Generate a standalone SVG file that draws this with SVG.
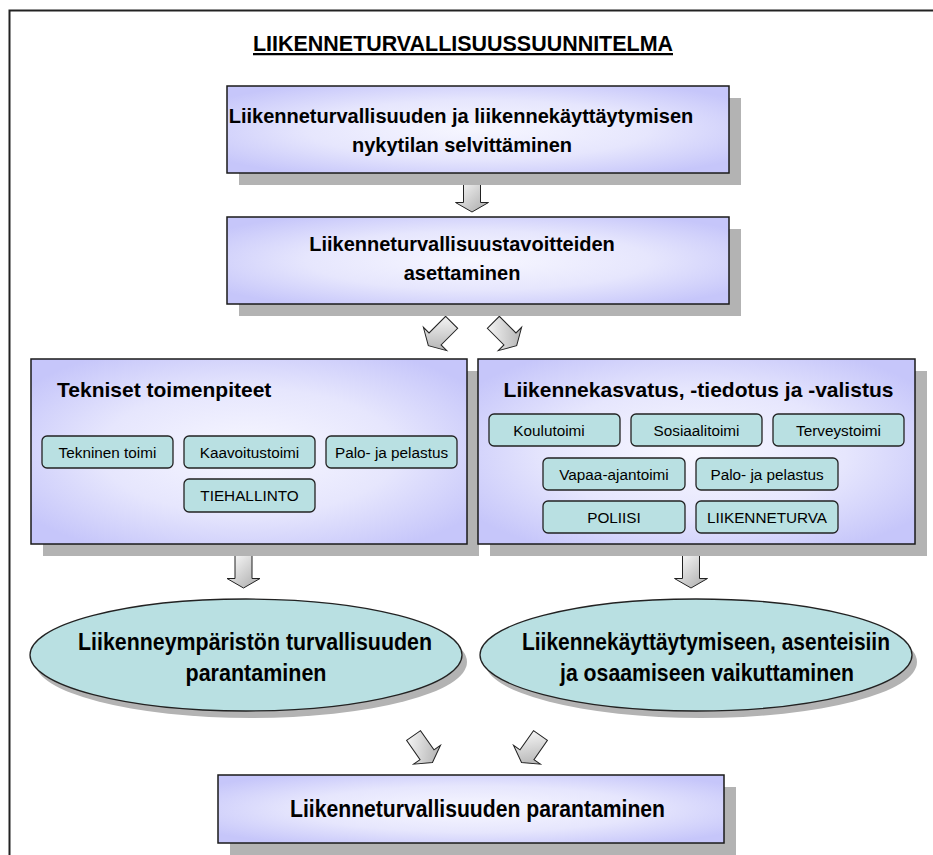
<svg xmlns="http://www.w3.org/2000/svg" width="933" height="855" viewBox="0 0 933 855">
<defs>
<radialGradient id="gBox" cx="50%" cy="50%" r="62%">
<stop offset="0" stop-color="#f7f7ff"/>
<stop offset="0.55" stop-color="#e6e6fd"/>
<stop offset="1" stop-color="#c6c6fa"/>
</radialGradient>
<linearGradient id="gArr" x1="0" y1="0" x2="1" y2="1">
<stop offset="0" stop-color="#ffffff"/>
<stop offset="1" stop-color="#a8a8a8"/>
</linearGradient>
<path id="arrow" d="M-8.5,-16.5H8.5V7H16.5L0,16.5L-16.5,7H-8.5Z"/>
</defs>
<style>
.frame{fill:none;stroke:#222;stroke-width:2}
.box{fill:url(#gBox);stroke:#1a1a1a;stroke-width:1.5}
.sh{fill:#b3b3b3}
.sm{fill:#b9e0e2;stroke:#222;stroke-width:1.3}
.el{fill:#b9e0e2;stroke:#222;stroke-width:1.3}
.arr{fill:url(#gArr);stroke:#222;stroke-width:1}
.t{font-family:"Liberation Sans",Arial,sans-serif;fill:#000}
.b{font-weight:bold}
.c{text-anchor:middle}
.s{font-size:15.3px}
.m{font-size:20px}
.h{font-size:21px}
.e{font-size:24px}
</style>
<rect class="frame" x="9.5" y="10.5" width="1000" height="900"/>
<g id="title">
<text class="t b c" x="463" y="51" font-size="22.5" textLength="420" lengthAdjust="spacingAndGlyphs" text-decoration="underline">LIIKENNETURVALLISUUSSUUNNITELMA</text>
</g>
<g id="connectors">
<use href="#arrow" class="arr" transform="translate(472,195.5)"/>
<use href="#arrow" class="arr" transform="translate(440,334) rotate(45)"/>
<use href="#arrow" class="arr" transform="translate(505,334) rotate(-45)"/>
<use href="#arrow" class="arr" transform="translate(243.5,571.5)"/>
<use href="#arrow" class="arr" transform="translate(691,571.5)"/>
<use href="#arrow" class="arr" transform="translate(423,749) rotate(-35)"/>
<use href="#arrow" class="arr" transform="translate(531,749) rotate(35)"/>
</g>
<g id="n1">
<rect class="sh" x="239" y="98" width="502" height="87"/>
<rect class="box" x="227" y="86" width="502" height="87"/>
<text class="t b c m" x="461" y="123">Liikenneturvallisuuden ja liikennekäyttäytymisen</text>
<text class="t b c m" x="462" y="152">nykytilan selvittäminen</text>
</g>
<g id="n2">
<rect class="sh" x="239" y="229" width="502" height="87"/>
<rect class="box" x="227" y="217" width="502" height="87"/>
<text class="t b c m" x="462" y="251">Liikenneturvallisuustavoitteiden</text>
<text class="t b c m" x="462" y="280">asettaminen</text>
</g>
<g id="n3">
<rect class="sh" x="43" y="371" width="436" height="185"/>
<rect class="box" x="31" y="359" width="436" height="185"/>
<text class="t b h" x="57" y="397">Tekniset toimenpiteet</text>
<g id="n3a"><rect class="sm" x="42" y="436" width="131" height="32" rx="5"/><text class="t c s" x="107.5" y="458">Tekninen toimi</text></g>
<g id="n3b"><rect class="sm" x="184" y="436" width="131" height="32" rx="5"/><text class="t c s" x="249.5" y="458">Kaavoitustoimi</text></g>
<g id="n3c"><rect class="sm" x="326" y="436" width="131" height="32" rx="5"/><text class="t c s" x="391.5" y="458">Palo- ja pelastus</text></g>
<g id="n3d"><rect class="sm" x="184" y="479" width="131" height="33" rx="5"/><text class="t c s" x="249.5" y="501">TIEHALLINTO</text></g>
</g>
<g id="n4">
<rect class="sh" x="490" y="371" width="437" height="185"/>
<rect class="box" x="478" y="359" width="437" height="185"/>
<text class="t b c h" x="698.5" y="397">Liikennekasvatus, -tiedotus ja -valistus</text>
<g id="n4a"><rect class="sm" x="489" y="414" width="131" height="32" rx="5"/><text class="t c s" x="549" y="436">Koulutoimi</text></g>
<g id="n4b"><rect class="sm" x="631" y="414" width="131" height="32" rx="5"/><text class="t c s" x="696.5" y="436">Sosiaalitoimi</text></g>
<g id="n4c"><rect class="sm" x="773" y="414" width="131" height="32" rx="5"/><text class="t c s" x="838.5" y="436">Terveystoimi</text></g>
<g id="n4d"><rect class="sm" x="543" y="458" width="142" height="32" rx="5"/><text class="t c s" x="614" y="480">Vapaa-ajantoimi</text></g>
<g id="n4e"><rect class="sm" x="696" y="458" width="142" height="32" rx="5"/><text class="t c s" x="767" y="480">Palo- ja pelastus</text></g>
<g id="n4f"><rect class="sm" x="543" y="501" width="142" height="32" rx="5"/><text class="t c s" x="614" y="523">POLIISI</text></g>
<g id="n4g"><rect class="sm" x="696" y="501" width="142" height="32" rx="5"/><text class="t c s" x="767" y="523">LIIKENNETURVA</text></g>
</g>
<g id="e1">
<ellipse class="sh" cx="251" cy="662" rx="216" ry="56"/>
<ellipse class="el" cx="246" cy="655" rx="216" ry="56"/>
<text class="t b c e" x="255" y="650" textLength="354" lengthAdjust="spacingAndGlyphs">Liikenneympäristön turvallisuuden</text>
<text class="t b c e" x="256" y="681" textLength="141" lengthAdjust="spacingAndGlyphs">parantaminen</text>
</g>
<g id="e2">
<ellipse class="sh" cx="701" cy="662" rx="216" ry="56"/>
<ellipse class="el" cx="696" cy="655" rx="216" ry="56"/>
<text class="t b c e" x="706" y="650" textLength="368" lengthAdjust="spacingAndGlyphs">Liikennekäyttäytymiseen, asenteisiin</text>
<text class="t b c e" x="707" y="681" textLength="294" lengthAdjust="spacingAndGlyphs">ja osaamiseen vaikuttaminen</text>
</g>
<g id="n5">
<rect class="sh" x="230" y="787" width="506" height="68"/>
<rect class="box" x="218" y="775" width="506" height="68"/>
<text class="t b c e" x="477.5" y="817" textLength="375" lengthAdjust="spacingAndGlyphs">Liikenneturvallisuuden parantaminen</text>
</g>
</svg>
